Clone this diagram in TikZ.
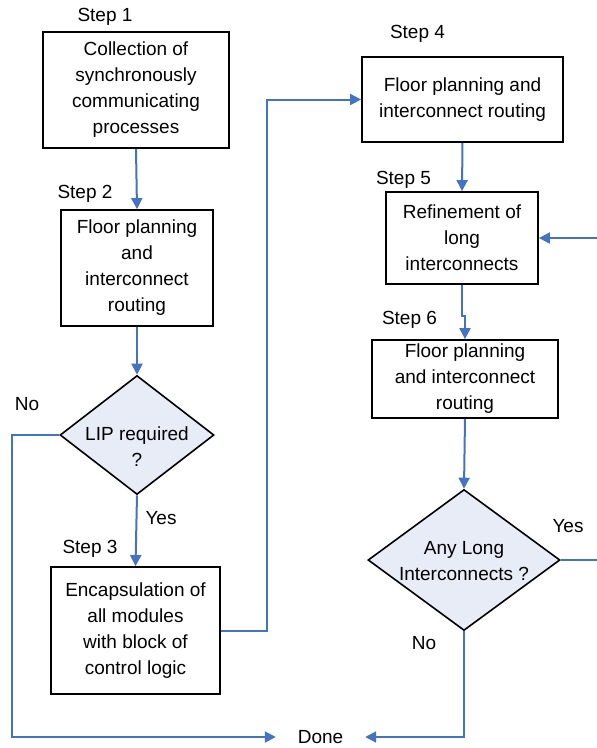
\documentclass[tikz,border=0pt]{standalone}
\usepackage{fontspec}
\setmainfont{Liberation Sans}
\usetikzlibrary{shapes.geometric,arrows.meta}
\definecolor{flow}{RGB}{68,114,196}
\definecolor{decfill}{RGB}{231,236,247}
\begin{document}
\begin{tikzpicture}[x=1pt,y=-1pt,
  every node/.style={font=\fontsize{19}{26}\selectfont, inner sep=0pt, align=center},
  box/.style={draw=black, line width=1.8pt},
  dec/.style={draw=black, line width=1.6pt, fill=decfill, diamond, inner sep=0pt},
  conn/.style={draw=flow, line width=2pt},
  arr/.style={conn, -{Triangle[length=11pt,width=11pt]}}]
\useasboundingbox (0,0) rectangle (597,748);
% boxes
\node[box, minimum width=186, minimum height=116] (b1) at (136,90) {Collection of\\synchronously\\communicating\\processes};
\node[box, minimum width=152, minimum height=116] (b2) at (137,268) {Floor planning\\and\\interconnect\\routing};
\node[box, minimum width=169, minimum height=127] (b3) at (135.5,630.5) {Encapsulation of\\all modules\\with block of\\control logic};
\node[box, minimum width=201, minimum height=85] (b4) at (462.5,99.5) {Floor planning and\\interconnect routing};
\node[box, minimum width=152, minimum height=92] (b5) at (462,238) {Refinement of\\long\\interconnects};
\node[box, minimum width=186, minimum height=78] (b6) at (465,379) {Floor planning\\and interconnect\\routing};
% decisions
\node[dec, minimum width=154, minimum height=119] (d1) at (137,435) {};
\node (t1) at (137,447) {LIP required\\?};
\node[dec, minimum width=192, minimum height=141] (d2) at (464,560) {};
\node (t2) at (464,561) {Any Long\\Interconnects ?};
\node[minimum width=89] (done) at (320.5,737) {Done};
% labels
\node (s1) at (105,17) {Step 1};
\node (s2) at (85,194) {Step 2};
\node (s3) at (90,549) {Step 3};
\node (s4) at (417.5,34) {Step 4};
\node (s5) at (403.5,180) {Step 5};
\node (s6) at (409.5,320) {Step 6};
\node (y1) at (161,518) {Yes};
\node (n1) at (27,404) {No};
\node (y2) at (568,526) {Yes};
\node (n2) at (424,643) {No};
% edge coordinates
\coordinate (eY) at (597,560);
\coordinate (eR) at (597,238);
% connectors
\draw[arr] (b1.south) -- (b2.north);
\draw[arr] (b2.south) -- (d1.north);
\draw[arr] (d1.south) -- (b3.north);
\draw[arr] (d1.west) -- ++(-47,0) |- (done.west);
\draw[arr] (b3.east) -- ++(46,0) |- (b4.west);
\draw[arr] (b4.south) -- (b5.north);
\draw[arr] (eR) -- (b5.east);
\draw[arr] (b5.south) -- ++(0,31) -| (b6.north);
\draw[arr] (b6.south) -- (d2.north);
\draw[conn] (d2.east) -- (eY);
\draw[arr] (d2.south) |- (done.east);
\end{tikzpicture}
\end{document}
